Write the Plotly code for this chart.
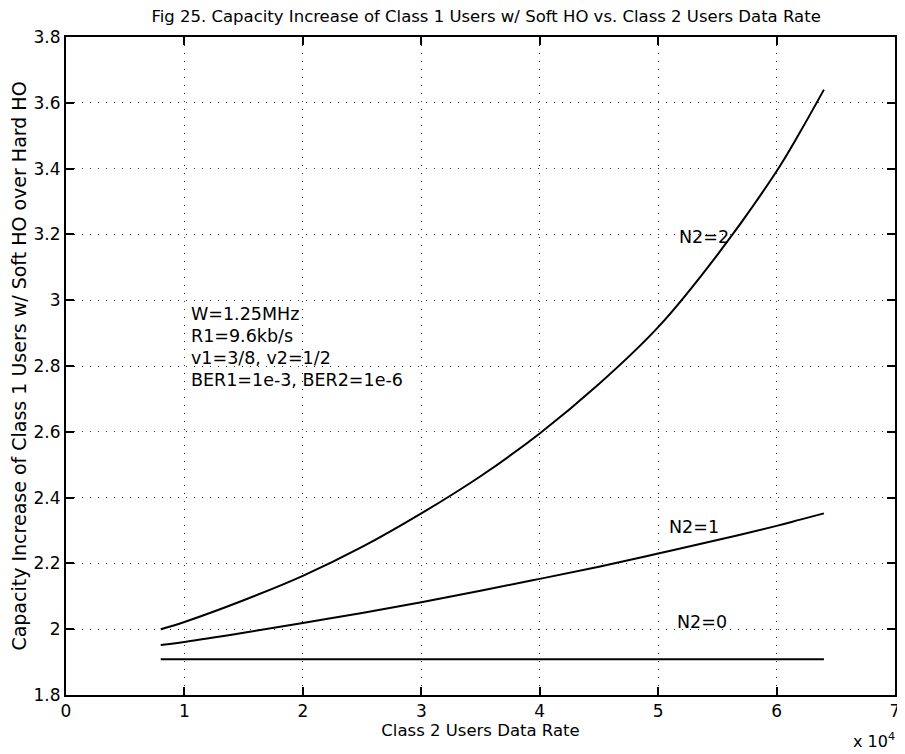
import plotly.graph_objects as go

# Data (Class 2 user data rate, b/s)
rate = [8000, 10000, 15000, 20000, 25000, 30000, 35000, 40000, 45000, 50000, 55000, 60000, 62000, 64000]
n2_2 = [2.000, 2.022, 2.088, 2.162, 2.250, 2.352, 2.465, 2.595, 2.745, 2.918, 3.138, 3.392, 3.512, 3.640]
n2_1 = [1.952, 1.961, 1.989, 2.019, 2.049, 2.082, 2.117, 2.153, 2.190, 2.230, 2.271, 2.314, 2.333, 2.352]
n2_0 = [1.909] * len(rate)

x_tickvals = [0, 10000, 20000, 30000, 40000, 50000, 60000, 70000]
x_ticktext = ["0", "1", "2", "3", "4", "5", "6", "7"]
y_tickvals = [1.8, 2.0, 2.2, 2.4, 2.6, 2.8, 3.0, 3.2, 3.4, 3.6, 3.8]
y_ticktext = ["1.8", "2", "2.2", "2.4", "2.6", "2.8", "3", "3.2", "3.4", "3.6", "3.8"]

info_lines = ["W=1.25MHz", "R1=9.6kb/s", "v1=3/8, v2=1/2", "BER1=1e-3, BER2=1e-6"]
info_y = [2.958, 2.891, 2.824, 2.757]

FONT = "DejaVu Sans, Liberation Sans, sans-serif"

fig = go.Figure()
for ys in (n2_2, n2_1, n2_0):
    fig.add_trace(go.Scatter(x=rate, y=ys, mode="lines",
                             line=dict(color="black", width=2, shape="spline", smoothing=1.0),
                             showlegend=False, hoverinfo="skip"))

axis_common = dict(showline=True, linecolor="black", linewidth=2, mirror="ticks",
                   ticks="inside", ticklen=8, tickwidth=2, tickcolor="black",
                   showgrid=True, gridcolor="#333333", gridwidth=1, griddash="1px,7px",
                   zeroline=False, tickfont=dict(family=FONT, size=17, color="black"))

fig.update_xaxes(range=[0, 70000], tickvals=x_tickvals, ticktext=x_ticktext,
                 title=dict(text="Class 2 Users Data Rate", font=dict(family=FONT, size=16.5, color="black"), standoff=2),
                 **axis_common)
fig.update_yaxes(range=[1.8, 3.8], tickvals=y_tickvals, ticktext=y_ticktext,
                 title=dict(text="Capacity Increase of Class 1 Users w/ Soft HO over Hard HO",
                            font=dict(family=FONT, size=19, color="black"), standoff=3),
                 **axis_common)

for txt, yy in zip(info_lines, info_y):
    fig.add_annotation(xref="x", yref="y", x=10400, y=yy, text=txt, xanchor="left", yanchor="middle",
                       showarrow=False, font=dict(family=FONT, size=17.5, color="black"))

curve_labels = [("N2=2", 53900, 3.192), ("N2=1", 53060, 2.311), ("N2=0", 53730, 2.022)]
for txt, xx, yy in curve_labels:
    fig.add_annotation(xref="x", yref="y", x=xx, y=yy, text=txt, xanchor="center", yanchor="middle",
                       showarrow=False, font=dict(family=FONT, size=17.5, color="black"))

fig.add_annotation(xref="paper", yref="paper", x=1.0024, y=-0.05, xanchor="right", yanchor="top",
                   text="x 10<sup>4</sup>", showarrow=False, font=dict(family=FONT, size=16, color="black"))

fig.update_layout(
    width=897, height=746,
    margin=dict(l=58, r=5, t=29, b=59),
    paper_bgcolor="white", plot_bgcolor="white",
    title=dict(text="Fig 25. Capacity Increase of Class 1 Users w/ Soft HO vs. Class 2 Users Data Rate",
               x=0.533, xanchor="center", y=0.9886, yanchor="middle",
               font=dict(family=FONT, size=16.5, color="black")),
)

fig.write_html("out.html")
